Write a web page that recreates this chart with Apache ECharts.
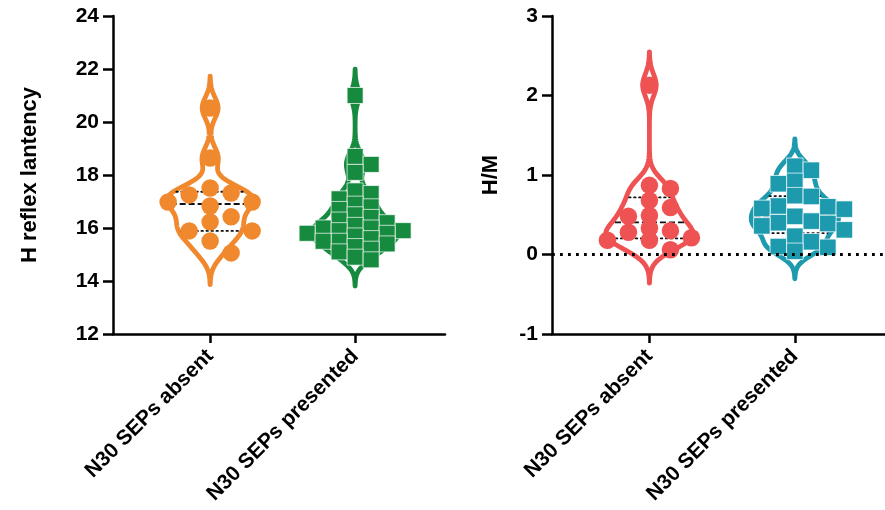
<!DOCTYPE html>
<html><head><meta charset="utf-8">
<script src="https://cdn.jsdelivr.net/npm/echarts@6/dist/echarts.min.js"></script>
<style>html,body{margin:0;padding:0;background:#fff}#c{width:885px;height:510px}</style>
</head><body><div id="c"></div>
<script>
// ---------- data ----------
const categories = ['N30 SEPs absent', 'N30 SEPs presented'];
const latencyTicks = [12, 14, 16, 18, 20, 22, 24];
const hmTicks = [-1, 0, 1, 2, 3];
const latencyTitle = 'H reflex lantency';
const hmTitle = 'H/M';
const latencyAbsent = [20.53, 18.64, 17.51, 17.25, 17.32, 16.83, 16.98, 16.98, 16.42, 16.23, 15.89, 15.89, 15.51, 15.06];
const latencyPresented = [21.0, 18.7, 18.4, 18.1, 17.4, 17.3, 17.1, 16.9, 16.8, 16.7, 16.5, 16.4, 16.3, 16.2, 16.1, 16.0, 16.0, 15.9, 15.9, 15.8, 15.8, 15.7, 15.6, 15.5, 15.5, 15.4, 15.3, 15.2, 15.1, 14.9, 14.8];
const hmAbsent = [2.13, 0.87, 0.83, 0.68, 0.59, 0.49, 0.48, 0.33, 0.30, 0.28, 0.21, 0.18, 0.18, 0.06];
const hmPresented = [1.11, 1.06, 0.92, 0.89, 0.74, 0.73, 0.61, 0.60, 0.58, 0.57, 0.48, 0.42, 0.40, 0.39, 0.36, 0.31, 0.23, 0.16, 0.10, 0.09, 0.04];

// ---------- layout / style ----------
const FONT = 'Liberation Sans, Arial, sans-serif';
const grids = [
  {left: 113, top: 16, width: 332, height: 318},
  {left: 552, top: 16, width: 333, height: 318}
];
const XMIN = 0.33, XMAX = 2.62;
const yRanges = [latencyTicks, hmTicks];
const HALF = 0.30;

const groups = [
  {panel: 0, cat: 1, values: latencyAbsent, color: '#F0892E', symbol: 'circle', size: 17.5, h: 0.40, minDist: 15},
  {panel: 0, cat: 2, values: latencyPresented, color: '#168A3E', symbol: 'rect', size: 16, h: 0.33, dyTol: 8},
  {panel: 1, cat: 1, values: hmAbsent, color: '#EE5253', symbol: 'circle', size: 17.5, h: 0.14, minDist: 11},
  {panel: 1, cat: 2, values: hmPresented, color: '#1E9AAE', symbol: 'rect', size: 16.5, h: 0.115, dyTol: 14}
];

function pxPerX(p) { return grids[p].width / (XMAX - XMIN); }
function pxPerY(p) { const t = yRanges[p]; return grids[p].height / (t[t.length - 1] - t[0]); }

function profile(vals, h) {
  const lo = Math.min(...vals) - 3 * h, hi = Math.max(...vals) + 3 * h, N = 240, arr = [];
  let dmax = 0;
  for (let i = 0; i <= N; i++) {
    const y = lo + (hi - lo) * i / N;
    let d = 0;
    for (const v of vals) { const z = (y - v) / h; d += Math.exp(-0.5 * z * z); }
    arr.push([y, d]); if (d > dmax) dmax = d;
  }
  return arr.map(([y, d]) => [y, HALF * d / dmax]);
}
function widthAt(prof, y) {
  for (let i = 1; i < prof.length; i++) {
    if (prof[i][0] >= y) {
      const a = prof[i - 1], b = prof[i], t = (y - a[0]) / (b[0] - a[0]);
      return a[1] + t * (b[1] - a[1]);
    }
  }
  return 0;
}
function pct(sorted, p) {
  const n = sorted.length, r = (n + 1) * p;
  if (r <= 1) return sorted[0];
  if (r >= n) return sorted[n - 1];
  const lo = Math.floor(r);
  return sorted[lo - 1] + (r - lo) * (sorted[lo] - sorted[lo - 1]);
}
function swarm(g) {
  const px = pxPerX(g.panel), py = pxPerY(g.panel);
  const circle = g.symbol === 'circle';
  const step = circle ? 21 : g.size;
  const unit = circle ? step : step / 2;
  const order = g.values.map((v, i) => i).sort((a, b) => g.values[b] - g.values[a]);
  const placed = [], out = [];
  for (const i of order) {
    const yp = g.values[i] * py;
    let best = null;
    for (let k = 0; k < 60 && best === null; k++) {
      const cands = k === 0 ? [0] : [k * unit, -k * unit];
      for (const dx of cands) {
        const ok = placed.every(p => {
          const ddx = Math.abs(p.dx - dx), ddy = Math.abs(p.yp - yp);
          if (circle) return Math.hypot(ddx, ddy) >= g.minDist;
          return !(ddx < step * 0.95 && ddy < g.dyTol);
        });
        if (ok) { best = dx; break; }
      }
    }
    placed.push({dx: best, yp});
    out.push([g.cat + best / px, g.values[i]]);
  }
  return out;
}

const series = [];
groups.forEach((g, gi) => {
  const prof = profile(g.values, g.h);
  const pts = [];
  prof.forEach(p => pts.push([g.cat - p[1], p[0]]));
  for (let i = prof.length - 1; i >= 0; i--) pts.push([g.cat + prof[i][1], prof[i][0]]);
  series.push({
    type: 'custom', xAxisIndex: g.panel, yAxisIndex: g.panel, silent: true, clip: false, z: 2,
    data: [[g.cat, g.values[0]]],
    renderItem: (params, api) => ({
      type: 'polygon',
      shape: {points: pts.map(p => api.coord(p))},
      style: {fill: 'none', stroke: g.color, lineWidth: 4.8, lineJoin: 'round'}
    })
  });
  const sorted = g.values.slice().sort((a, b) => a - b);
  const qs = [pct(sorted, 0.25), pct(sorted, 0.5), pct(sorted, 0.75)];
  const qSeries = {
    type: 'custom', xAxisIndex: g.panel, yAxisIndex: g.panel, silent: true, clip: false, z: 3,
    data: [[g.cat, qs[1]]],
    renderItem: (params, api) => ({
      type: 'group',
      children: qs.map((q, k) => {
        const w = widthAt(prof, q);
        const a = api.coord([g.cat - w, q]), b = api.coord([g.cat + w, q]);
        return {
          type: 'line',
          shape: {x1: a[0] + 3, y1: a[1], x2: b[0] - 3, y2: b[1]},
          style: k === 1
            ? {stroke: '#111', lineWidth: 1.8, lineDash: [6, 3]}
            : {stroke: '#111', lineWidth: 1.8, lineDash: [1.5, 3.5], lineCap: 'round'}
        };
      })
    })
  };
  if (gi === 2) {
    qSeries.markLine = {
      silent: true, symbol: 'none', animation: false, label: {show: false},
      lineStyle: {color: '#000', width: 2.8, type: [2.8, 5.2], cap: 'butt'},
      data: [{yAxis: 0}]
    };
  }
  series.push(qSeries);
  series.push({
    type: 'scatter', xAxisIndex: g.panel, yAxisIndex: g.panel, z: 4,
    symbol: g.symbol, symbolSize: g.size,
    itemStyle: g.symbol === 'rect'
      ? {color: g.color, opacity: 1, borderColor: '#fff', borderWidth: 0.7}
      : {color: g.color, opacity: 1},
    data: swarm(g)
  });
});

const axisLine = {show: true, onZero: false, lineStyle: {color: '#000', width: 2.5}};
const tickStyle = {color: '#000', width: 2.5};
const labelStyle = {color: '#000', fontSize: 21, fontWeight: 'bold', fontFamily: FONT};

const option = {
  animation: false,
  backgroundColor: '#fff',
  textStyle: {fontFamily: FONT},
  grid: grids.map(g => Object.assign({outerBoundsMode: 'none', containLabel: false}, g)),
  xAxis: [0, 1].map(i => ({
    gridIndex: i, type: 'value', min: XMIN, max: XMAX,
    splitLine: {show: false}, axisLine,
    axisTick: {show: true, customValues: [1, 2], length: 9, lineStyle: tickStyle},
    axisLabel: Object.assign({customValues: [1, 2], rotate: 45, margin: 19,
      formatter: v => categories[Math.round(v) - 1] || ''}, labelStyle)
  })),
  yAxis: [0, 1].map(i => ({
    gridIndex: i, type: 'value',
    min: yRanges[i][0], max: yRanges[i][yRanges[i].length - 1],
    interval: yRanges[i][1] - yRanges[i][0],
    splitLine: {show: false}, axisLine,
    axisTick: {show: true, length: 10, lineStyle: tickStyle},
    axisLabel: Object.assign({margin: 14}, labelStyle),
    name: i === 0 ? latencyTitle : hmTitle,
    nameLocation: 'middle', nameGap: i === 0 ? 72 : 50, nameRotate: 90,
    nameTextStyle: {color: '#000', fontSize: 22, fontWeight: 'bold', fontFamily: FONT}
  })),
  series
};
const chart = echarts.init(document.getElementById('c'));
chart.setOption(option);
</script>
</body></html>
